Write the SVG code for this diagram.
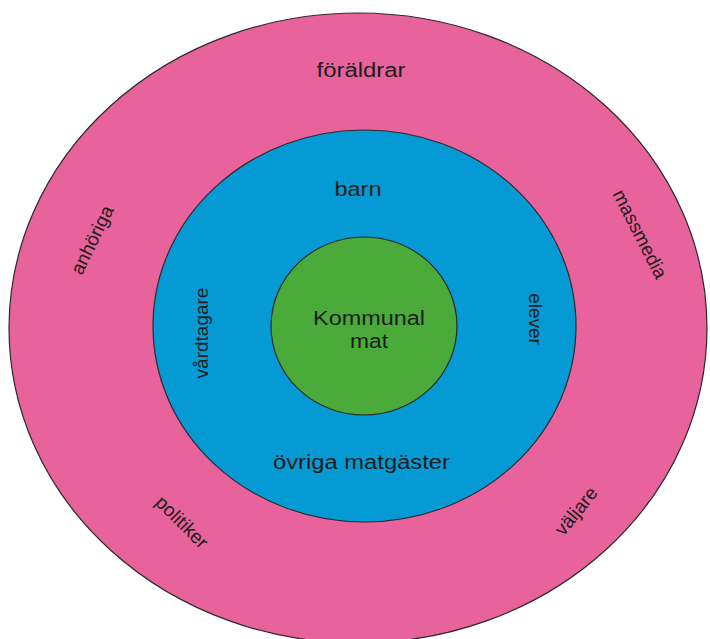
<svg xmlns="http://www.w3.org/2000/svg" width="710" height="639" viewBox="0 0 710 639">
<style>
.ring{stroke:#2a2a2a;stroke-width:1.2}
.t{font-family:"Liberation Sans",Arial,sans-serif;font-size:20px;fill:#1c1c1c;text-anchor:middle}
.r{font-family:"Liberation Sans",Arial,sans-serif;font-size:19px;fill:#1c1c1c;text-anchor:middle;dominant-baseline:central}
</style>
<rect width="710" height="639" fill="#ffffff"/>
<g id="outer">
<ellipse class="ring" cx="358" cy="328" rx="349" ry="315" fill="#E8629B"/>
<text class="t" x="361" y="77" textLength="89" lengthAdjust="spacingAndGlyphs">föräldrar</text>
<text class="r" transform="translate(92,240) rotate(-64)">anhöriga</text>
<text class="r" transform="translate(640,234) rotate(63)">massmedia</text>
<text class="r" transform="translate(182,522) rotate(45)">politiker</text>
<text class="r" transform="translate(576,511) rotate(-51)">väljare</text>
</g>
<g id="middle">
<ellipse class="ring" cx="364.5" cy="326" rx="211.5" ry="196" fill="#069AD5"/>
<text class="t" x="358" y="196" textLength="47" lengthAdjust="spacingAndGlyphs">barn</text>
<text class="r" transform="translate(201,333) rotate(-90)">vårdtagare</text>
<text class="r" transform="translate(535,319) rotate(90)">elever</text>
<text class="t" x="361.5" y="469" textLength="177" lengthAdjust="spacingAndGlyphs">övriga matgäster</text>
</g>
<g id="center">
<ellipse class="ring" cx="364" cy="326" rx="93" ry="89" fill="#4AAA3A"/>
<text class="t" x="369" y="325" textLength="112" lengthAdjust="spacingAndGlyphs">Kommunal</text>
<text class="t" x="369" y="348" textLength="38" lengthAdjust="spacingAndGlyphs">mat</text>
</g>
<g id="connectors"/>
</svg>
